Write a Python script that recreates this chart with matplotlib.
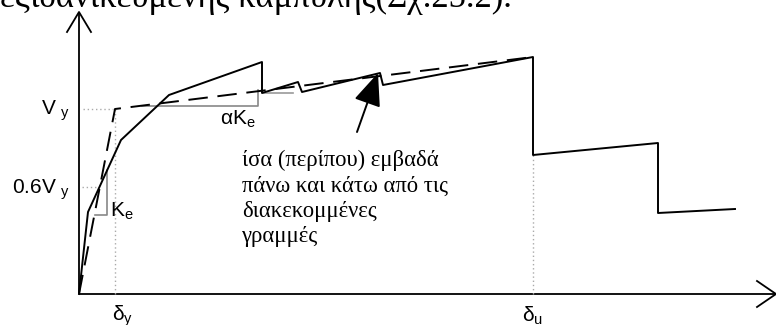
import matplotlib
matplotlib.use("Agg")
import matplotlib.pyplot as plt

plt.rcParams['mathtext.fontset'] = 'custom'
plt.rcParams['mathtext.rm'] = 'Liberation Sans'
plt.rcParams['mathtext.it'] = 'Liberation Sans'
plt.rcParams['mathtext.default'] = 'regular'

# capacity curve (displacement, force) in drawing units
curve_d = [0, 9, 42, 90, 183, 183, 219, 223, 301, 304, 454, 454, 579, 579, 656]
curve_v = [0, 82, 154, 199, 232, 201, 212, 202, 221, 209, 237, 139, 151, 81, 85]

# idealised bilinear curve
bilin_d = [0, 36, 454]
bilin_v = [0, 185, 237]

# key points
dy, Vy = 36, 185
du, Vu_drop = 454, 139
V06 = 107

# slope triangles (grey)
ke_d = [16, 28, 28]
ke_v = [79, 79, 124]
ake_d = [63, 179, 179]
ake_v = [188, 188, 204]
extra_d = [184, 214]
extra_v = [201, 201]

# axis extents
x_end, y_end = 697, 282

sans = 'Liberation Sans'
serif = 'Liberation Serif'

fig = plt.figure(figsize=(7.76, 3.25), dpi=100)
ax = fig.add_axes([0, 0, 1, 1])
ax.set_xlim(-79, 776 - 79)
ax.set_ylim(294 - 325, 294)
ax.axis('off')

# axes with open arrow heads
ax.plot([0, 0], [0, y_end], color='black', lw=1.3, solid_capstyle='butt')
ax.plot([0, x_end], [0, 0], color='black', lw=1.3, solid_capstyle='butt')
ax.plot([-12, 0, 12], [y_end - 20, y_end, y_end - 20], color='black', lw=1.3)
ax.plot([x_end - 19, x_end, x_end - 19], [13, 0, -13], color='black', lw=1.3)

# dotted guide lines
dot = dict(color='#aaaaaa', lw=1.0, linestyle=(0, (1, 2)))
ax.plot([4, dy - 2], [Vy, Vy], **dot)
ax.plot([dy, dy], [0, Vy], **dot)
ax.plot([3, 18], [V06, V06], **dot)
ax.plot([du, du], [0, Vu_drop], **dot)

# grey slope triangles
ax.plot(ke_d, ke_v, color='#888888', lw=1.2)
ax.plot(ake_d, ake_v, color='#888888', lw=1.2)
ax.plot(extra_d, extra_v, color='#999999', lw=1.2)

# curves
ax.plot(curve_d, curve_v, color='black', lw=1.4)
ax.plot(bilin_d, bilin_v, color='black', lw=1.4, linestyle=(0, (10, 5)))

# labels
ax.text(-9, Vy - 2, 'V $_y$', fontsize=15, family=sans, ha='right', va='center')
ax.text(-9, V06 - 3, '0.6V $_y$', fontsize=15, family=sans, ha='right', va='center')
ax.text(31, 83, 'K$_e$', fontsize=15, family=sans, ha='left', va='center')
ax.text(141, 175, 'αK$_e$', fontsize=15, family=sans, ha='left', va='center')
ax.text(33, -22, 'δ$_y$', fontsize=15, family=sans, ha='left', va='center')
ax.text(443, -22, 'δ$_u$', fontsize=15, family=sans, ha='left', va='center')

note = 'ίσα (περίπου) εμβαδά\nπάνω και κάτω από τις\nδιακεκομμένες\nγραμμές'
ax.text(163, 144, note, fontsize=16.3, family=serif, ha='left', va='top',
        linespacing=1.26)

ax.annotate('', xy=(299, 221), xytext=(278, 162),
            arrowprops=dict(arrowstyle='-|>,head_length=1.2,head_width=0.5',
                            mutation_scale=17, lw=1.4, color='black',
                            shrinkA=0, shrinkB=0))

# cropped caption line from the page above
ax.text(-79, 287, 'εξιδανικευμένης καμπύλης(Σχ.25.2).', fontsize=25,
        family=serif, ha='left', va='baseline')

fig.savefig('out.png', dpi=100)
